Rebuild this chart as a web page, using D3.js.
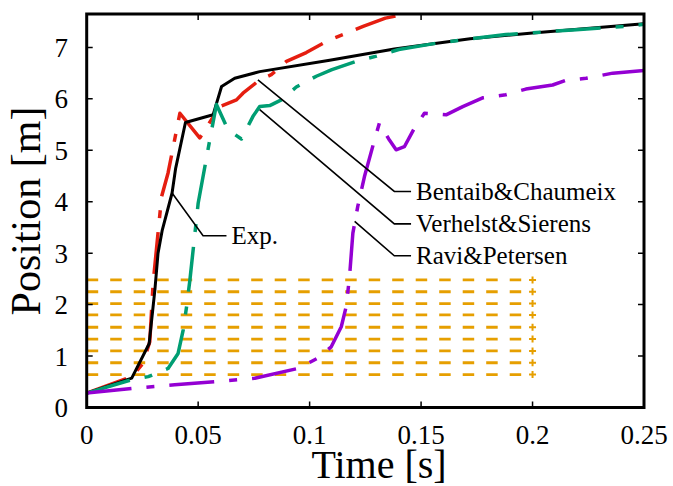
<!DOCTYPE html>
<html>
<head>
<meta charset="utf-8">
<script src="https://cdn.jsdelivr.net/npm/d3@7"></script>
<style>
  body { margin: 0; background: #fff; }
  text { font-family: "Liberation Serif", "DejaVu Serif", serif; fill: #000; }
</style>
</head>
<body>
<script>
// Flame position vs time, experiment and three models

// experiment
const expT = [0, 0.0202, 0.028, 0.0306, 0.032, 0.0339, 0.0383, 0.0399, 0.0443, 0.0567, 0.0605, 0.0664, 0.0776, 0.109, 0.138, 0.172, 0.2, 0.25];
const expV = [0.28, 0.57, 1.24, 2.29, 3.0, 3.45, 4.17, 4.65, 5.54, 5.69, 6.24, 6.40, 6.53, 6.75, 6.97, 7.17, 7.28, 7.46];

// Bentaib&Chaumeix
const benT = [0, 0.0202, 0.0253, 0.0283, 0.0298, 0.0336, 0.0365, 0.0418, 0.0507, 0.0597, 0.0672, 0.0701, 0.0776, 0.0828, 0.0896, 0.0985, 0.109, 0.115, 0.124, 0.134, 0.1455, 0.16];
const benV = [0.28, 0.60, 0.86, 1.28, 2.42, 4.1, 4.56, 5.72, 5.24, 5.85, 5.98, 6.11, 6.37, 6.47, 6.73, 6.90, 7.15, 7.25, 7.41, 7.57, 7.67, 7.80];

// Verhelst&Sierens
const verT = [0, 0.0202, 0.0276, 0.0365, 0.041, 0.0433, 0.0448, 0.0463, 0.050, 0.0552, 0.0582, 0.0634, 0.0694, 0.0746, 0.0776, 0.0821, 0.0873, 0.094, 0.103, 0.110, 0.121, 0.130, 0.140, 0.158, 0.188, 0.218, 0.242, 0.25];
const verV = [0.28, 0.54, 0.60, 0.76, 1.05, 1.51, 1.96, 2.48, 3.97, 5.2, 5.89, 5.40, 5.22, 5.66, 5.85, 5.87, 5.98, 6.23, 6.44, 6.57, 6.73, 6.83, 6.96, 7.09, 7.25, 7.34, 7.41, 7.45];

// Ravi&Petersen
const ravT = [0, 0.0202, 0.0395, 0.0575, 0.0754, 0.0948, 0.1037, 0.1097, 0.1142, 0.1164, 0.1179, 0.1194, 0.1216, 0.1246, 0.1291, 0.1313, 0.1358, 0.1388, 0.1425, 0.147, 0.1515, 0.1612, 0.1687, 0.1776, 0.188, 0.197, 0.209, 0.215, 0.224, 0.236, 0.25];
const ravV = [0.28, 0.37, 0.44, 0.50, 0.57, 0.76, 0.96, 1.18, 1.57, 1.96, 2.54, 3.39, 3.91, 4.49, 5.2, 5.53, 5.2, 5.01, 5.07, 5.43, 5.72, 5.69, 5.85, 6.02, 6.08, 6.19, 6.27, 6.36, 6.40, 6.50, 6.55];

// sensor positions (orange dashed lines)
const sensorPos = [0.64, 0.87, 1.10, 1.33, 1.56, 1.80, 2.02, 2.25, 2.48];
const sensorT = [0, 0.2];

const xTicks = [0, 0.05, 0.1, 0.15, 0.2, 0.25];
const yTicks = [0, 1, 2, 3, 4, 5, 6, 7];

const W = 673, H = 486;
const margin = {top: 14, right: 29, bottom: 78.5, left: 86.7};

const x = d3.scaleLinear().domain([0, 0.25]).range([margin.left, W - margin.right]);
const y = d3.scaleLinear().domain([0, 7.65]).range([H - margin.bottom, margin.top]);

const svg = d3.select("body").append("svg")
    .attr("width", W)
    .attr("height", H);

svg.append("clipPath").attr("id", "plot")
  .append("rect")
    .attr("x", margin.left).attr("y", margin.top)
    .attr("width", W - margin.left - margin.right)
    .attr("height", H - margin.top - margin.bottom);

const line = d3.line().x(d => x(d[0])).y(d => y(d[1]));
const zip = (ts, vs) => ts.map((t, i) => [t, vs[i]]);

const g = svg.append("g").attr("clip-path", "url(#plot)");

// sensors
sensorPos.forEach(p => {
    g.append("path")
        .datum(sensorT.map(t => [t, p]))
        .attr("d", line)
        .attr("fill", "none")
        .attr("stroke", "#E69F00")
        .attr("stroke-width", 2.8)
        .attr("stroke-dasharray", "11.5,12");
    const cx = x(sensorT[1]), cy = y(p);
    g.append("path")
        .attr("d", `M${cx - 3.5},${cy}H${cx + 3.5}M${cx},${cy - 3.5}V${cy + 3.5}`)
        .attr("stroke", "#E69F00")
        .attr("stroke-width", 2);
});

const series = [
    {t: benT, v: benV, color: "#E51E10", dash: "42,14,8,14", w: 3.5},
    {t: expT, v: expV, color: "#000", dash: null, w: 3},
    {t: verT, v: verV, color: "#009E73", dash: "45,15,8,15", w: 3.5},
    {t: ravT, v: ravV, color: "#9400D3", dash: "45,15,8,15", w: 3.5}
];

series.forEach(s => {
    g.append("path")
        .datum(zip(s.t, s.v))
        .attr("d", line)
        .attr("fill", "none")
        .attr("stroke", s.color)
        .attr("stroke-width", s.w)
        .attr("stroke-linejoin", "round")
        .attr("stroke-dasharray", s.dash);
});

// labels with leader lines: anchor point on the curve, elbow, label start
const labels = [
    {text: "Exp.", from: [0.0383, 4.17], elbow: [0.0522, 3.34], to: [0.0627, 3.34]},
    {text: "Bentaib&Chaumeix", from: [0.0768, 6.37], elbow: [0.138, 4.2], to: [0.1455, 4.2]},
    {text: "Verhelst&Sierens", from: [0.0776, 5.79], elbow: [0.138, 3.57], to: [0.1455, 3.57]},
    {text: "Ravi&Petersen", from: [0.1202, 3.62], elbow: [0.138, 2.95], to: [0.1455, 2.95]}
];

labels.forEach(l => {
    svg.append("path")
        .datum([l.from, l.elbow, l.to])
        .attr("d", line)
        .attr("fill", "none")
        .attr("stroke", "#000")
        .attr("stroke-width", 1.6);
    svg.append("text")
        .attr("x", x(l.to[0]) + 5)
        .attr("y", y(l.to[1]))
        .attr("dy", "0.33em")
        .attr("font-size", 25)
        .text(l.text);
});

// frame
svg.append("rect")
    .attr("x", margin.left).attr("y", margin.top)
    .attr("width", W - margin.left - margin.right)
    .attr("height", H - margin.top - margin.bottom)
    .attr("fill", "none")
    .attr("stroke", "#000")
    .attr("stroke-width", 3);

// ticks, inward on all sides
const tl = 6;
xTicks.slice(1, -1).forEach(t => {
    svg.append("path")
        .attr("d", `M${x(t)},${y(0)}v${-tl}M${x(t)},${y.range()[1]}v${tl}`)
        .attr("stroke", "#000").attr("stroke-width", 1.5);
});
yTicks.slice(1).forEach(v => {
    svg.append("path")
        .attr("d", `M${x(0)},${y(v)}h${tl}M${x.range()[1]},${y(v)}h${-tl}`)
        .attr("stroke", "#000").attr("stroke-width", 1.5);
});

svg.selectAll(".xl").data(xTicks).enter().append("text")
    .attr("x", d => x(d))
    .attr("y", 444)
    .attr("text-anchor", "middle")
    .attr("font-size", 27)
    .text(d => d);

svg.selectAll(".yl").data(yTicks).enter().append("text")
    .attr("x", 68)
    .attr("y", d => y(d))
    .attr("dy", "0.35em")
    .attr("text-anchor", "end")
    .attr("font-size", 27)
    .text(d => d);

svg.append("text")
    .attr("x", 379)
    .attr("y", 478)
    .attr("text-anchor", "middle")
    .attr("font-size", 40)
    .text("Time [s]");

svg.append("text")
    .attr("transform", "translate(40,211) rotate(-90)")
    .attr("text-anchor", "middle")
    .attr("font-size", 42)
    .text("Position [m]");
</script>
</body>
</html>
